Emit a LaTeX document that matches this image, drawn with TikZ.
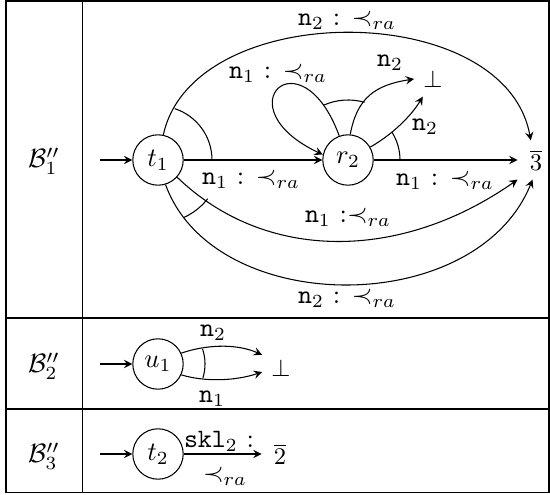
\documentclass[tikz,border=0pt]{standalone}
\usepackage{amsmath,amssymb}
\usepackage{tikz}
\usetikzlibrary{arrows,calc}
\tikzstyle{trans} = [->, >=stealth]
\tikzstyle{state} = [circle, draw, minimum size=19pt, inner sep=0pt]
\tikzstyle{sink} = [font=\small, minimum width=13.5pt]
\tikzstyle{rule} = [line width=0.7pt]

\begin{document}
\begin{tikzpicture}[x=0.377pt, y=0.377pt]
    \useasboundingbox (0,0) rectangle (550,494);
    % Table frame
    \draw[rule] (6,493) rectangle (549,1.5);
    \draw[rule] (6,176) -- (549,176);
    \draw[rule] (6,85) -- (549,85);
    \draw[line width=0.35pt] (82,493) -- (82,1.5);
    \node (b1) at (44,333) {$\mathcal{B}''_1$};
    \node (b2) at (44,128) {$\mathcal{B}''_2$};
    \node (b3) at (44,38) {$\mathcal{B}''_3$};

    % First row: t1, r2
    \node[state] (t1) at (158,334) {$t_1$};
    \node[state] (r2) at (348,334) {$r_2$};
    \node[sink] (three) at (536,334) {$\overline{3}$};
    \node[sink] (bot1) at (433,415) {$\bot$};
    \coordinate (in1) at (100,334);
    \draw[trans] (in1) -- (t1);
    \draw[trans] (t1) -- (r2);
    \draw[trans] (r2) -- (three);
    \draw[trans] (t1.78) .. controls (193,496) and (505,496) .. (three.105);
    \draw[trans] (t1.-42) .. controls (265,232) and (400,232) .. (three.south west);
    \draw[trans] (t1.-73) .. controls (214,176) and (476,175) .. (three.-100);
    \draw[trans] (r2.110) .. controls (301,462) and (222,387) .. (r2.168);
    \draw[trans] (r2.85) .. controls (357,396) and (375,409) .. (bot1.west);
    \draw[trans] (r2.30) .. controls (393,360) and (411,378) .. (bot1.-120);
    % Arcs joining the branches
    \draw (t1.center) ++(0:54) arc (0:72:54);
    \draw (t1.center) ++(-38:63) arc (-38:-66:63);
    \draw (r2.center) ++(0:52) arc (0:32:52);
    \draw (r2.center) ++(74:60) arc (74:114:60);
    % Labels
    \node (lt) at (347,474) {$\mathtt{n}_2$ : $\prec_{ra}$};
    \node (la) at (251,315) {$\mathtt{n}_1$ : $\prec_{ra}$};
    \node (lb) at (445,314) {$\mathtt{n}_1$ : $\prec_{ra}$};
    \node (lc) at (348,277) {$\mathtt{n}_1$ :$\prec_{ra}$};
    \node (ld) at (347,196) {$\mathtt{n}_2$ : $\prec_{ra}$};
    \node (le) at (278,421) {$\mathtt{n}_1$ : $\prec_{ra}$};
    \node (lf) at (390,431) {$\mathtt{n}_2$};
    \node (lg) at (425,367) {$\mathtt{n}_2$};

    % Second row: u1
    \node[state] (u1) at (158,130) {$u_1$};
    \node[sink] (bot2) at (281,126) {$\bot$};
    \coordinate (in2) at (100,130);
    \draw[trans] (in2) -- (u1);
    \draw[trans] (u1.25) .. controls (205,149) and (235,151) .. (bot2.145);
    \draw[trans] (u1.-25) .. controls (205,112) and (235,113) .. (bot2.192);
    \draw (u1.center) ++(-17:47) arc (-17:19:47);
    \node (lh) at (213,161) {$\mathtt{n}_2$};
    \node (li) at (212,95) {$\mathtt{n}_1$};

    % Third row: t2
    \node[state] (t2) at (158,40) {$t_2$};
    \node[sink] (two) at (280,40) {$\overline{2}$};
    \coordinate (in3) at (100,40);
    \draw[trans] (in3) -- (t2);
    \draw[trans] (t2) -- (two);
    \node (lj) at (219,53) {$\mathtt{skl}_2$ :};
    \node (lk) at (225,18) {$\prec_{ra}$};
\end{tikzpicture}
\end{document}
